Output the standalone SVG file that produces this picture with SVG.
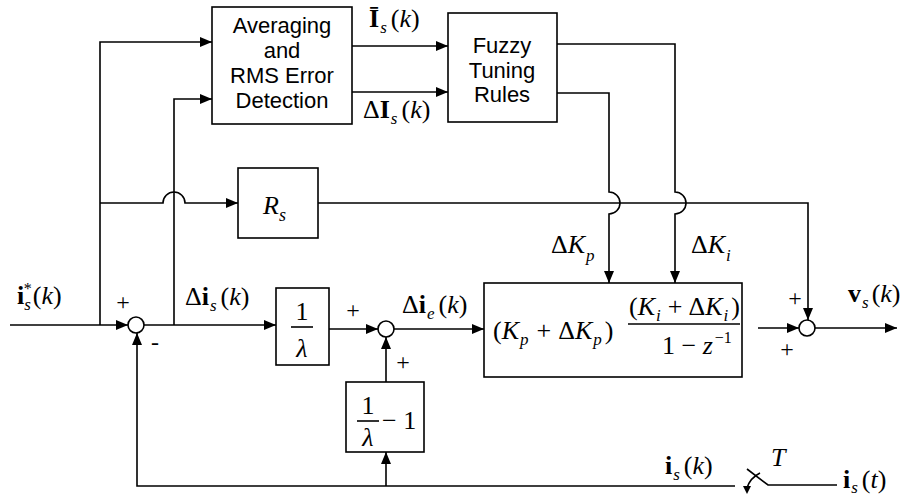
<svg xmlns="http://www.w3.org/2000/svg" width="909" height="497" viewBox="0 0 909 497">
<style>
.box{fill:#fff;stroke:#000;stroke-width:1.6}
.ln{fill:none;stroke:#000;stroke-width:1.6}
.sum{fill:#fff;stroke:#000;stroke-width:1.6}
.t{font-family:"Liberation Sans",Arial,sans-serif;font-size:22px;text-anchor:middle;fill:#000}
.m{font-family:"Liberation Serif","Times New Roman",serif;font-size:26px;fill:#000}
.b{font-weight:bold}
.i{font-style:italic}
.sb{font-size:17px;font-style:italic}
.sg{font-family:"Liberation Serif","Times New Roman",serif;font-size:24px;fill:#000;text-anchor:middle}
</style>
<defs>
<marker id="ar" viewBox="0 0 12 10" refX="12" refY="5" markerWidth="12" markerHeight="10" markerUnits="userSpaceOnUse" orient="auto">
<path d="M0,0 L12,5 L0,10 z" fill="#000"/>
</marker>
</defs>
<rect width="909" height="497" fill="#fff"/>

<g id="connectors">
<path class="ln" d="M10,325 H128" marker-end="url(#ar)"/>
<path class="ln" d="M100,325 V42 H212" marker-end="url(#ar)"/>
<path class="ln" d="M100,203 H163 A11,11 0 0 1 185,203 H238" marker-end="url(#ar)"/>
<path class="ln" d="M144,325 H276" marker-end="url(#ar)"/>
<path class="ln" d="M174,325 V99 H212" marker-end="url(#ar)"/>
<path class="ln" d="M352,46 H448" marker-end="url(#ar)"/>
<path class="ln" d="M352,92 H448" marker-end="url(#ar)"/>
<path class="ln" d="M557,44 H675 V192 A11,11 0 0 1 675,214 V283" marker-end="url(#ar)"/>
<path class="ln" d="M557,93 H609 V192 A11,11 0 0 1 609,214 V283" marker-end="url(#ar)"/>
<path class="ln" d="M318,203 H808 V320" marker-end="url(#ar)"/>
<path class="ln" d="M329,329 H378" marker-end="url(#ar)"/>
<path class="ln" d="M394,329 H484" marker-end="url(#ar)"/>
<path class="ln" d="M386,382 V337" marker-end="url(#ar)"/>
<path class="ln" d="M758,328 H799" marker-end="url(#ar)"/>
<path class="ln" d="M815,328 H897" marker-end="url(#ar)"/>
<path class="ln" d="M735,486 H137 V333" marker-end="url(#ar)"/>
<path class="ln" d="M386,486 V452" marker-end="url(#ar)"/>
</g>

<g id="switch">
<path class="ln" d="M837,485 H768 L747,469"/>
<path class="ln" d="M760,473 Q750,478 747,488"/>
<path d="M743,486 L747,494 L751,486 z" fill="#000"/>
<text class="m i" x="771" y="466" font-size="22">T</text>
</g>

<g id="averaging">
<rect class="box" x="212" y="7" width="140" height="117"/>
<text class="t" x="282" y="33">Averaging</text>
<text class="t" x="282" y="58">and</text>
<text class="t" x="282" y="83">RMS Error</text>
<text class="t" x="282" y="108">Detection</text>
</g>

<g id="fuzzy">
<rect class="box" x="448" y="13" width="109" height="109"/>
<text class="t" x="502" y="53">Fuzzy</text>
<text class="t" x="502" y="78">Tuning</text>
<text class="t" x="502" y="102">Rules</text>
</g>

<g id="rs">
<rect class="box" x="238" y="168" width="80" height="70"/>
<text class="m i" x="263" y="214" font-size="31">R<tspan font-size="18" dy="7">s</tspan></text>
</g>

<g id="sum1"><circle class="sum" cx="136" cy="325" r="8"/></g>
<g id="sum2"><circle class="sum" cx="386" cy="329" r="8"/></g>
<g id="sum3"><circle class="sum" cx="807" cy="328" r="8"/></g>

<g id="inv-lambda">
<rect class="box" x="276" y="288" width="53" height="77"/>
<text class="m" x="302" y="320" text-anchor="middle" font-size="28">1</text>
<line class="ln" x1="291" y1="327" x2="313" y2="327" stroke-width="1.3"/>
<text class="m i" x="302" y="357" text-anchor="middle" font-size="28">λ</text>
</g>

<g id="inv-lambda-minus-1">
<rect class="box" x="346" y="382" width="78" height="70"/>
<text class="m" x="368" y="414" text-anchor="middle" font-size="27">1</text>
<line class="ln" x1="357" y1="421" x2="379" y2="421" stroke-width="1.3"/>
<text class="m i" x="368" y="446" text-anchor="middle" font-size="27">λ</text>
<text class="m" x="382" y="429" font-size="27">− 1</text>
</g>

<g id="pi">
<rect class="box" x="484" y="283" width="258" height="94"/>
<text class="m" x="493" y="339" font-size="28">(<tspan class="i">K</tspan><tspan class="sb" dy="6" dx="1">p</tspan><tspan dy="-6" dx="8">+</tspan><tspan dx="7">Δ</tspan><tspan class="i">K</tspan><tspan class="sb" dy="6" dx="1">p</tspan><tspan dy="-6" dx="3">)</tspan></text>
<text class="m" x="629" y="315" font-size="26">(<tspan class="i">K</tspan><tspan class="sb" dy="6" dx="1">i</tspan><tspan dy="-6" dx="7">+</tspan><tspan dx="6">Δ</tspan><tspan class="i">K</tspan><tspan class="sb" dy="6" dx="1">i</tspan><tspan dy="-6" dx="3">)</tspan></text>
<line class="ln" x1="628" y1="324" x2="740" y2="324" stroke-width="1.2"/>
<text class="m" x="662" y="354" font-size="27">1 − <tspan class="i">z</tspan><tspan font-size="16" dy="-11" dx="2">−1</tspan></text>
</g>

<g id="labels">
<text class="m" x="17" y="304"><tspan class="b">i</tspan><tspan class="sb" dy="6">s</tspan><tspan font-size="16" dx="-7" dy="-16">*</tspan><tspan dy="10" dx="1">(</tspan><tspan class="i">k</tspan>)</text>
<text class="m" x="185" y="305">Δ<tspan class="b">i</tspan><tspan class="sb" dy="6" dx="1">s</tspan><tspan dy="-6" dx="4">(</tspan><tspan class="i">k</tspan>)</text>
<text class="m" x="402" y="313">Δ<tspan class="b">i</tspan><tspan class="sb" dy="6" dx="1">e</tspan><tspan dy="-6" dx="4">(</tspan><tspan class="i">k</tspan>)</text>
<text class="m" x="369" y="27"><tspan class="b">Ī</tspan><tspan class="sb" dy="6" dx="1">s</tspan><tspan dy="-6" dx="4">(</tspan><tspan class="i">k</tspan>)</text>
<text class="m" x="363" y="118">Δ<tspan class="b">I</tspan><tspan class="sb" dy="6" dx="1">s</tspan><tspan dy="-6" dx="4">(</tspan><tspan class="i">k</tspan>)</text>
<text class="m" x="551" y="253">Δ<tspan class="i">K</tspan><tspan class="sb" dy="8" dx="1">p</tspan></text>
<text class="m" x="691" y="253">Δ<tspan class="i">K</tspan><tspan class="sb" dy="8" dx="1">i</tspan></text>
<text class="m" x="848" y="302"><tspan class="b">v</tspan><tspan class="sb" dy="6" dx="1">s</tspan><tspan dy="-6" dx="3">(</tspan><tspan class="i">k</tspan>)</text>
<text class="m" x="665" y="474"><tspan class="b">i</tspan><tspan class="sb" dy="6" dx="1">s</tspan><tspan dy="-6" dx="4">(</tspan><tspan class="i">k</tspan>)</text>
<text class="m" x="843" y="488"><tspan class="b">i</tspan><tspan class="sb" dy="5" dx="1">s</tspan><tspan dy="-5" dx="4">(</tspan><tspan class="i">t</tspan>)</text>
<text class="sg" x="123" y="310">+</text>
<text class="sg" x="155" y="350">-</text>
<text class="sg" x="353" y="318">+</text>
<text class="sg" x="403" y="370">+</text>
<text class="sg" x="795" y="306">+</text>
<text class="sg" x="787" y="357">+</text>
</g>
</svg>
